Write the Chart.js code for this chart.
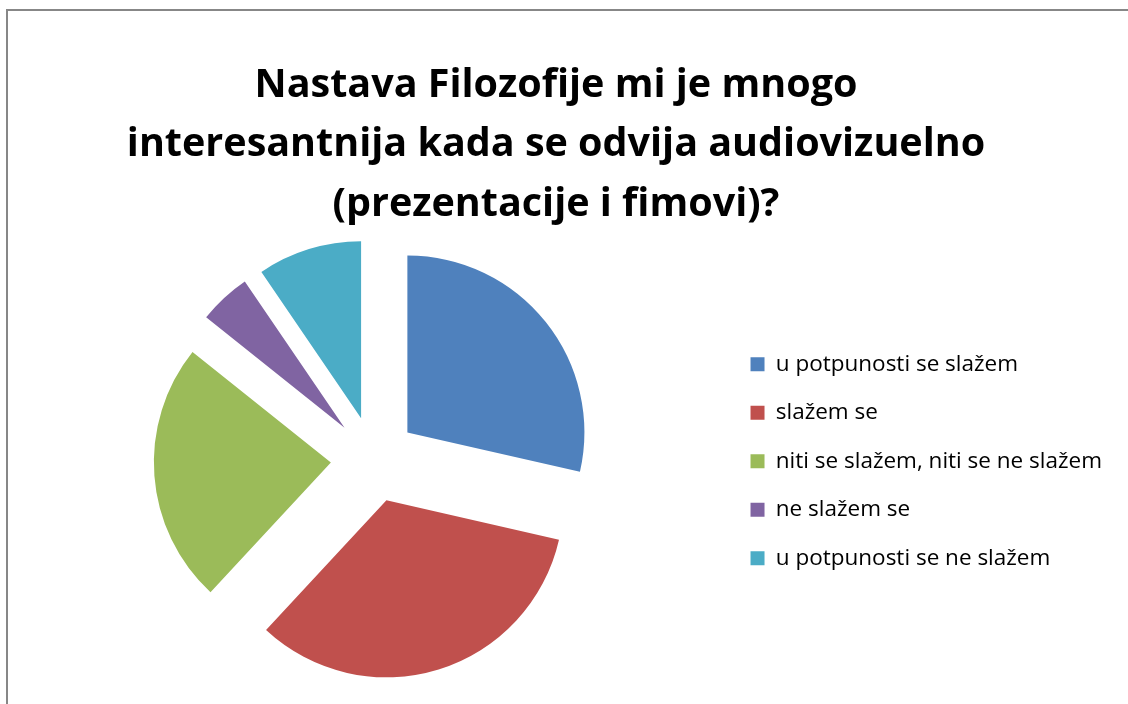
<!DOCTYPE html>
<html>
<head>
<meta charset="utf-8">
<script src="https://cdn.jsdelivr.net/npm/chart.js@4.4.1/dist/chart.umd.min.js"></script>
<style>
    html, body { margin: 0; padding: 0; background: #fff; overflow: hidden; }
    #wrap { position: relative; width: 1128px; height: 704px; }
    #frame { position: absolute; left: 6px; top: 9px; width: 1140px; height: 720px; border: 2px solid #878787; box-sizing: border-box; }
    canvas { position: absolute; left: 0; top: 0; }
</style>
</head>
<body>
<div id="wrap">
    <div id="frame"></div>
    <canvas id="pie" width="1128" height="704"></canvas>
</div>
<script>
// survey answers, slices go clockwise from 12 o'clock like Excel
const titleLines = [
    'Nastava Filozofije mi je mnogo',
    'interesantnija kada se odvija audiovizuelno',
    '(prezentacije i fimovi)?',
];
const answers = [
    'u potpunosti se slažem',
    'slažem se',
    'niti se slažem, niti se ne slažem',
    'ne slažem se',
    'u potpunosti se ne slažem',
];
const counts = [6, 7, 5, 1, 2];
const sliceColors = ['#4f81bd', '#c0504d', '#9bbb59', '#8064a2', '#4bacc6'];

const FONT = '"Open Sans", Lato, sans-serif';
const EXPLODE = 43; // px each slice is pushed out along its bisector

// Chart.js' own `offset` also grows the radius of thin slices, so push the
// arcs out here instead and keep every radius equal (Excel style explosion)
const explodePlugin = {
    id: 'explode',
    beforeDatasetDraw(chart, args) {
        const area = chart.chartArea;
        const cx = (area.left + area.right) / 2;
        const cy = (area.top + area.bottom) / 2;
        args.meta.data.forEach(arc => {
            const mid = (arc.startAngle + arc.endAngle) / 2;
            arc.x = cx + Math.cos(mid) * EXPLODE;
            arc.y = cy + Math.sin(mid) * EXPLODE;
        });
    },
};

const pieLabels = Chart.overrides.pie.plugins.legend.labels.generateLabels;

new Chart(document.getElementById('pie'), {
    type: 'pie',
    data: {
        labels: answers,
        datasets: [{
            data: counts,
            backgroundColor: sliceColors,
            borderWidth: 0,
            radius: 177,
        }],
    },
    options: {
        responsive: false,
        animation: false,
        layout: { padding: { left: 0, right: 16, top: 0, bottom: 24 } },
        plugins: {
            title: {
                display: true,
                text: titleLines,
                color: '#000',
                font: { family: FONT, size: 39.5, weight: 'bold', lineHeight: 1.506 },
                padding: { top: 56, bottom: 4 },
            },
            legend: {
                position: 'right',
                fullSize: false,
                // empty title only adds room above the rows
                title: { display: true, text: '', font: { size: 27, lineHeight: 1 }, padding: 0 },
                labels: {
                    color: '#000',
                    // one-line arrays make the row pitch follow font.lineHeight,
                    // so the side padding can stay small
                    generateLabels: chart => pieLabels(chart).map(item => ({ ...item, text: [item.text] })),
                    font: { family: FONT, size: 22.5, lineHeight: 2.022 },
                    boxWidth: 14,
                    boxHeight: 14,
                    padding: 3,
                },
            },
            tooltip: { enabled: false },
        },
    },
    plugins: [explodePlugin],
});
</script>
</body>
</html>
